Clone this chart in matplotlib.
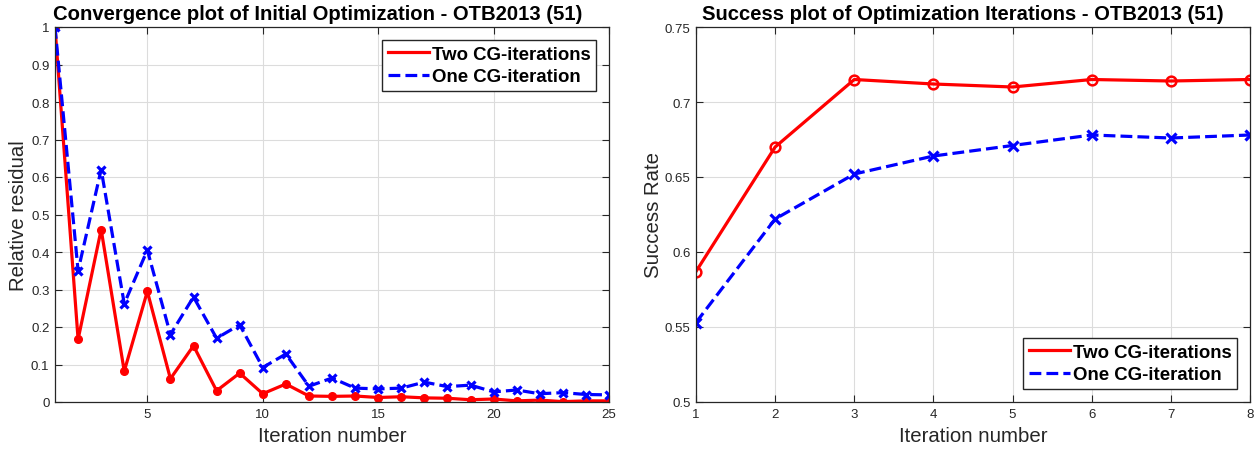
import matplotlib.pyplot as plt

plt.rcParams['font.family'] = ['Liberation Sans', 'DejaVu Sans']

# convergence plot data
iters_conv = list(range(1, 26))
two_cg_resid = [1.0, 0.167, 0.46, 0.082, 0.295, 0.062, 0.15, 0.03, 0.077, 0.022,
                0.048, 0.016, 0.015, 0.016, 0.012, 0.014, 0.011, 0.010, 0.006, 0.008,
                0.003, 0.005, 0.001, 0.003, 0.003]
one_cg_resid = [1.0, 0.35, 0.62, 0.262, 0.405, 0.18, 0.28, 0.17, 0.206, 0.092,
                0.128, 0.042, 0.064, 0.037, 0.035, 0.037, 0.053, 0.041, 0.045, 0.027,
                0.032, 0.022, 0.025, 0.020, 0.019]

# success plot data
iters_succ = list(range(1, 9))
two_cg_succ = [0.587, 0.670, 0.715, 0.712, 0.710, 0.715, 0.714, 0.715]
one_cg_succ = [0.553, 0.622, 0.652, 0.664, 0.671, 0.678, 0.676, 0.678]

labels = ["Two CG-iterations", "One CG-iteration"]

fig = plt.figure(figsize=(12.57, 4.52), dpi=100)
ax1 = fig.add_axes([55/1257, 49/452, 554/1257, 375/452])
ax2 = fig.add_axes([696/1257, 49/452, 554/1257, 375/452])

leg_kw = dict(prop={'weight': 'bold', 'size': 13.4}, fancybox=False, edgecolor='#262626',
              handlelength=2.2, handletextpad=0.15, borderpad=0.3, labelspacing=0.3,
              borderaxespad=0.7, framealpha=1)

ax1.plot(iters_conv, two_cg_resid, '-o', color='red', lw=2.3, ms=5.5, label=labels[0])
ax1.plot(iters_conv, one_cg_resid, '--x', color='blue', lw=2.3, ms=6, mew=2.3, label=labels[1])
ax1.set_xlim(1, 25)
ax1.set_ylim(0, 1)
ax1.set_xticks([5, 10, 15, 20, 25])
ax1.set_yticks([i / 10 for i in range(11)])
ax1.set_yticklabels(['0', '0.1', '0.2', '0.3', '0.4', '0.5', '0.6', '0.7', '0.8', '0.9', '1'])
t1 = ax1.set_title("Convergence plot of Initial Optimization - OTB2013 (51)",
                   fontsize=14.6, fontweight='bold', pad=6)
t1.set_x(0.475)
ax1.set_xlabel("Iteration number", fontsize=14.7, color='#262626', labelpad=5)
ax1.set_ylabel("Relative residual", fontsize=14.7, color='#262626', labelpad=2)
ax1.legend(loc='upper right', **leg_kw)

ax2.plot(iters_succ, two_cg_succ, '-o', color='red', lw=2.3, ms=7, mfc='none', mew=1.8, label=labels[0])
ax2.plot(iters_succ, one_cg_succ, '--x', color='blue', lw=2.3, ms=7, mew=2.3, label=labels[1])
ax2.set_xlim(1, 8)
ax2.set_ylim(0.5, 0.75)
ax2.set_yticks([0.5, 0.55, 0.6, 0.65, 0.7, 0.75])
ax2.set_yticklabels(['0.5', '0.55', '0.6', '0.65', '0.7', '0.75'])
t2 = ax2.set_title("Success plot of Optimization Iterations - OTB2013 (51)",
                   fontsize=14.6, fontweight='bold', pad=6)
t2.set_x(0.482)
ax2.set_xlabel("Iteration number", fontsize=14.7, color='#262626', labelpad=5)
ax2.set_ylabel("Success Rate", fontsize=14.7, color='#262626', labelpad=1)
ax2.legend(loc='lower right', **leg_kw)

for ax in (ax1, ax2):
    ax.grid(True, color='#dcdcdc', lw=0.8)
    ax.set_axisbelow(True)
    ax.tick_params(direction='in', top=True, right=True, labelsize=9.5,
                   colors='#262626', length=5, pad=4)
    for s in ax.spines.values():
        s.set_color('#262626')
        s.set_linewidth(0.9)
    for h in ax.get_legend().legend_handles:
        h.set_marker('')
    ax.get_legend().get_frame().set_linewidth(1.0)

fig.savefig("out.png", dpi=100)
